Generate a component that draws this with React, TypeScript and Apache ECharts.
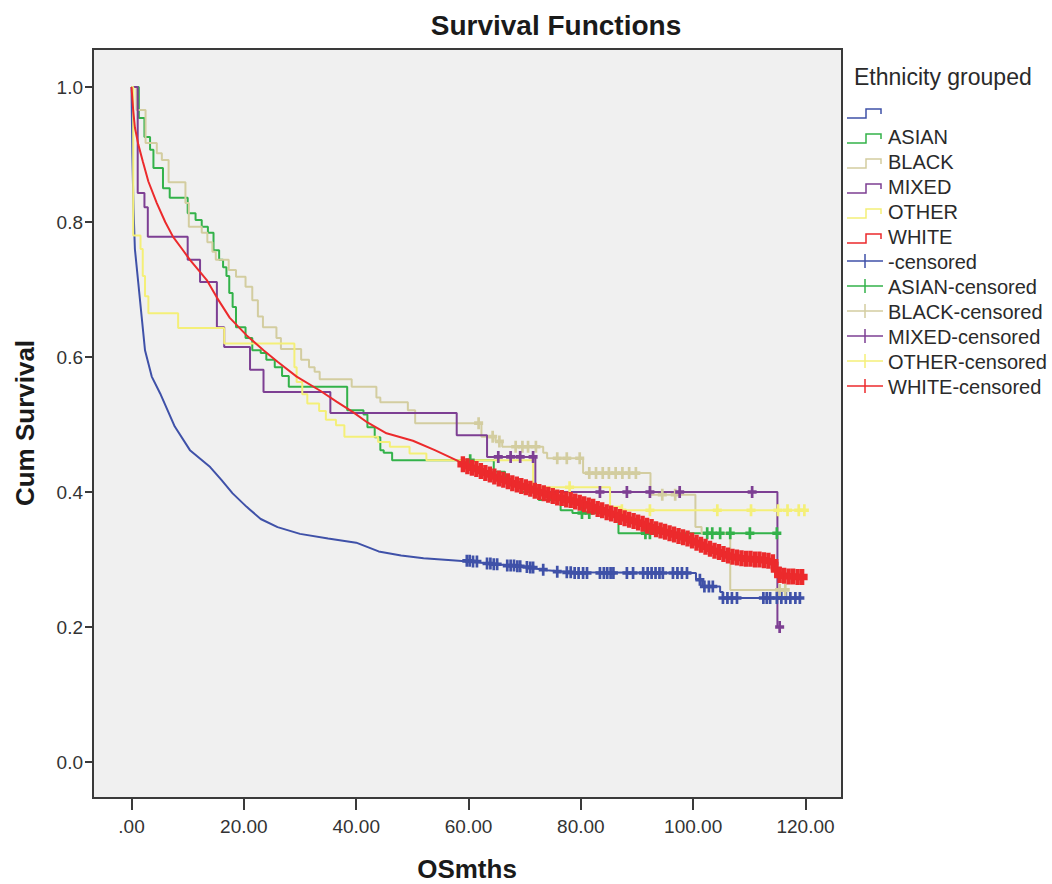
import React, { useEffect, useRef } from 'react';
import * as echarts from 'echarts';

// ---------- data ----------
const groupNames = ['', 'ASIAN', 'BLACK', 'MIXED', 'OTHER', 'WHITE'];
const xTickValues = [0, 20, 40, 60, 80, 100, 120];
const yTickValues = [0, 0.2, 0.4, 0.6, 0.8, 1.0];

// survival curves: [months, cumulative survival]
const missingCurve = [
  [0, 1], [0.15, 0.9], [0.35, 0.82], [0.6, 0.76], [1.2, 0.71], [1.8, 0.66], [2.4, 0.61],
  [3.6, 0.571], [5.1, 0.546], [7.7, 0.497], [10.4, 0.462], [14, 0.437], [16, 0.418],
  [18, 0.398], [20.5, 0.378], [23, 0.36], [26, 0.348], [30, 0.338], [35, 0.331],
  [40, 0.325], [44, 0.312], [48, 0.306], [52, 0.302], [57, 0.299], [60, 0.297],
  [65, 0.293], [70, 0.289], [74, 0.284], [78, 0.281], [100.5, 0.28], [100.5, 0.27],
  [101.6, 0.27], [101.6, 0.26], [104.8, 0.26], [104.8, 0.252], [105.3, 0.252],
  [105.3, 0.243], [119, 0.243]
];
const asianCurve = [
  [0, 1], [1.3, 0.954], [2.3, 0.926], [3.3, 0.907], [3.9, 0.88], [5.6, 0.85], [6.8, 0.836],
  [10.0, 0.813], [11.4, 0.803], [12.5, 0.793], [13.6, 0.784], [14.6, 0.758], [15.6, 0.744],
  [16.3, 0.733], [16.9, 0.72], [17.4, 0.695], [18.0, 0.674], [18.6, 0.644], [20.3, 0.628],
  [21.5, 0.61], [23.0, 0.606], [24.0, 0.596], [25.5, 0.585], [26.8, 0.572], [28.0, 0.556],
  [38.4, 0.521], [41.3, 0.515], [42.0, 0.496], [43.3, 0.481], [44.3, 0.462], [44.9, 0.458],
  [46.4, 0.447], [64.5, 0.43], [66.5, 0.415], [69.5, 0.4], [72.5, 0.388], [76.4, 0.373],
  [78.5, 0.369], [86.7, 0.339], [115, 0.339]
];
const blackCurve = [
  [0, 1], [0.9, 0.966], [2.5, 0.917], [4.5, 0.902], [5.4, 0.892], [6.6, 0.859], [9.6, 0.828],
  [10.2, 0.793], [12.5, 0.784], [13.5, 0.77], [14.4, 0.756], [15.0, 0.744], [17.3, 0.729],
  [18.6, 0.719], [20.3, 0.704], [21.5, 0.684], [22.5, 0.66], [23.4, 0.644], [25.8, 0.628],
  [26.6, 0.612], [30.2, 0.596], [31.6, 0.585], [32.6, 0.578], [33.5, 0.567], [39.2, 0.556],
  [43.6, 0.54], [44.3, 0.533], [49.2, 0.521], [50.5, 0.502], [62.3, 0.482], [64.8, 0.475],
  [66, 0.467], [73.3, 0.458], [74, 0.45], [80.4, 0.428], [92.4, 0.396], [100.4, 0.348],
  [101.5, 0.339], [106.6, 0.255], [116.7, 0.255]
];
const mixedCurve = [
  [0, 1], [1.1, 0.843], [2.3, 0.822], [2.9, 0.778], [10.0, 0.744], [12.2, 0.711],
  [15.2, 0.644], [16.5, 0.615], [21.1, 0.581], [23.5, 0.548], [35.4, 0.517], [57.9, 0.484],
  [63.3, 0.452], [71.9, 0.4], [115, 0.2], [115.4, 0.2]
];
const otherCurve = [
  [0, 1], [0.3, 0.78], [1.6, 0.76], [2.0, 0.72], [2.4, 0.69], [3.0, 0.665], [8.3, 0.643],
  [16.5, 0.62], [29.0, 0.585], [29.4, 0.563], [30.4, 0.545], [31.3, 0.531], [33.4, 0.52],
  [34.6, 0.507], [36.4, 0.499], [37.9, 0.482], [43.9, 0.474], [46, 0.467], [49.5, 0.457],
  [52.5, 0.447], [71.5, 0.407], [85.2, 0.378], [87, 0.373], [120.3, 0.373]
];
const whiteCurve = [
  [0, 1], [0.3, 0.965], [0.6, 0.94], [1.2, 0.915], [2, 0.89], [3, 0.86], [4.5, 0.828],
  [6, 0.8], [7.4, 0.778], [9, 0.76], [10.4, 0.744], [12, 0.728], [13.4, 0.714],
  [15.2, 0.688], [17.5, 0.658], [20.5, 0.632], [23.5, 0.61], [26, 0.593], [29.4, 0.571],
  [33.6, 0.55], [36.5, 0.534], [39.5, 0.518], [42, 0.503], [45.4, 0.487], [50.1, 0.476],
  [54, 0.462], [57.9, 0.447], [60, 0.438], [62, 0.432], [66, 0.418], [71.5, 0.403],
  [76, 0.392], [79.9, 0.384], [84, 0.372], [90.5, 0.354], [95, 0.341], [99.5, 0.329],
  [103, 0.316], [107.1, 0.304], [110, 0.301], [113.5, 0.298], [114.6, 0.29], [115, 0.277],
  [119.4, 0.274]
];

// censored observations: [months, cumulative survival]
const missingCensor = [
  [59.7, 0.298], [60.2, 0.298], [60.8, 0.297], [61.5, 0.297], [63.3, 0.294], [63.9, 0.294],
  [64.5, 0.293], [65.1, 0.293], [66.9, 0.291], [67.5, 0.291], [68.1, 0.291], [68.7, 0.29],
  [69.2, 0.29], [70.4, 0.289], [71.0, 0.288], [71.5, 0.288], [73.3, 0.285], [75.8, 0.282],
  [77.5, 0.281], [78.2, 0.281], [78.9, 0.28], [79.6, 0.28], [80.4, 0.28], [81.1, 0.28],
  [83.4, 0.28], [84.1, 0.28], [84.7, 0.28], [85.3, 0.28], [85.8, 0.28], [88.2, 0.28],
  [89.3, 0.28], [91.1, 0.28], [91.9, 0.28], [92.6, 0.28], [93.3, 0.28], [94.0, 0.28],
  [94.6, 0.28], [96.4, 0.28], [97.2, 0.28], [98.0, 0.28], [98.9, 0.28], [101.2, 0.27],
  [102.0, 0.26], [102.8, 0.26], [103.5, 0.26], [105.3, 0.243], [106.1, 0.243],
  [106.9, 0.243], [107.8, 0.243], [112.5, 0.243], [113.1, 0.243], [113.7, 0.243],
  [114.9, 0.243], [115.7, 0.243], [116.5, 0.243], [117.3, 0.243], [118.2, 0.243], [119.0, 0.243]
];
const asianCensor = [
  [60.3, 0.447], [80.2, 0.369], [81.5, 0.369], [91.5, 0.339], [92.3, 0.339], [102.5, 0.339],
  [103.4, 0.339], [104.8, 0.339], [106.6, 0.339], [110.1, 0.339], [114.9, 0.339]
];
const blackCensor = [
  [61.8, 0.502], [64.3, 0.482], [65.5, 0.475], [68.4, 0.467], [69.6, 0.467], [70.6, 0.467],
  [72.0, 0.467], [75.8, 0.45], [77.5, 0.45], [79.8, 0.45], [81.5, 0.428], [82.7, 0.428],
  [83.9, 0.428], [85.0, 0.428], [86.2, 0.428], [87.4, 0.428], [88.6, 0.428], [89.8, 0.428],
  [94.5, 0.396], [96.8, 0.396], [115.4, 0.255], [116.4, 0.255]
];
const mixedCensor = [
  [65.3, 0.452], [67.5, 0.452], [69.2, 0.452], [71.5, 0.452], [83.4, 0.4], [88.2, 0.4],
  [92.3, 0.4], [97.6, 0.4], [110.5, 0.4], [115.4, 0.2]
];
const otherCensor = [
  [78.0, 0.407], [87.3, 0.373], [92.3, 0.373], [104.3, 0.373], [110.3, 0.373],
  [115.1, 0.373], [116.8, 0.373], [118.8, 0.373], [119.8, 0.373]
];
const whiteCensor = [
  [59.0, 0.441], [59.8, 0.438], [60.6, 0.436], [61.4, 0.434], [62.2, 0.431], [63.0, 0.428],
  [63.8, 0.426], [64.6, 0.423], [65.4, 0.42], [66.2, 0.418], [67.0, 0.416], [67.8, 0.413],
  [68.6, 0.411], [69.4, 0.409], [70.2, 0.407], [71.0, 0.405], [71.8, 0.402], [72.6, 0.4],
  [73.4, 0.398], [74.2, 0.396], [75.0, 0.394], [75.8, 0.392], [76.6, 0.391], [77.4, 0.389],
  [78.2, 0.388], [79.0, 0.386], [79.8, 0.384], [80.6, 0.382], [81.4, 0.38], [82.2, 0.378],
  [83.0, 0.375], [83.8, 0.373], [84.6, 0.37], [85.4, 0.368], [86.2, 0.366], [87.0, 0.363],
  [87.8, 0.361], [88.6, 0.359], [89.4, 0.357], [90.2, 0.355], [91.0, 0.353], [91.8, 0.35],
  [92.6, 0.348], [93.4, 0.345], [94.2, 0.343], [95.0, 0.341], [95.8, 0.339], [96.6, 0.337],
  [97.4, 0.335], [98.2, 0.333], [99.0, 0.331], [99.8, 0.328], [100.6, 0.325], [101.4, 0.322],
  [102.2, 0.319], [103.0, 0.316], [103.8, 0.313], [104.6, 0.311], [105.4, 0.308],
  [106.2, 0.306], [107.0, 0.304], [107.8, 0.303], [108.6, 0.302], [109.4, 0.301],
  [110.2, 0.301], [111.0, 0.3], [111.8, 0.3], [112.6, 0.299], [113.4, 0.298], [114.2, 0.296],
  [114.8, 0.285], [115.4, 0.277], [116.2, 0.276], [117.0, 0.275], [117.8, 0.275],
  [118.6, 0.274], [119.4, 0.274]
];

const curves = [missingCurve, asianCurve, blackCurve, mixedCurve, otherCurve, whiteCurve];
const censors = [missingCensor, asianCensor, blackCensor, mixedCensor, otherCensor, whiteCensor];
const stepped = [false, true, true, true, true, false];

// ---------- styles ----------
const palette = ['#3f51a8', '#33b24a', '#d3cda0', '#7d3f93', '#f4ef78', '#ec2a2c'];
const FONT = '"Liberation Sans", Arial, sans-serif';
const PLUS = 'path://M3.5,0H6.5V3.5H10V6.5H6.5V10H3.5V6.5H0V3.5H3.5Z';
const PLUS_BOLD = 'path://M3,0H7V3H10V7H7V10H3V7H0V3H3Z';

const GRID = { left: 93, top: 49, width: 749, height: 749 };

export default function App() {
  const ref = useRef<HTMLDivElement>(null);

  useEffect(() => {
    if (!ref.current) return;
    const chart = echarts.init(ref.current, null, { renderer: 'svg' });

    const series: any[] = [];
    curves.forEach((c, i) => {
      series.push({
        type: 'line',
        name: groupNames[i],
        data: c,
        step: stepped[i] ? 'end' : false,
        showSymbol: false,
        symbol: 'none',
        silent: true,
        z: 2 + i,
        lineStyle: { color: palette[i], width: 2 },
      });
    });
    censors.forEach((c, i) => {
      const isWhite = i === 5;
      series.push({
        type: 'scatter',
        name: groupNames[i] + '-censored',
        data: c,
        symbol: isWhite ? PLUS_BOLD : PLUS,
        symbolSize: isWhite ? [11, 16] : [9, 12],
        silent: true,
        z: 10 + i,
        itemStyle: { color: palette[i], opacity: 1 },
      });
    });

    const legendX = 847;
    const rowY = (k: number) => 111 + 25 * k;
    const graphics: any[] = [
      {
        type: 'text', x: 556, y: 25,
        style: { text: 'Survival Functions', font: `bold 28px ${FONT}`, fill: '#1a1a1a', textAlign: 'center', textVerticalAlign: 'middle' },
      },
      {
        type: 'text', x: 467, y: 869,
        style: { text: 'OSmths', font: `bold 26px ${FONT}`, fill: '#1a1a1a', textAlign: 'center', textVerticalAlign: 'middle' },
      },
      {
        type: 'text', x: 25, y: 423, rotation: Math.PI / 2,
        style: { text: 'Cum Survival', font: `bold 26px ${FONT}`, fill: '#1a1a1a', textAlign: 'center', textVerticalAlign: 'middle' },
      },
      {
        type: 'text', x: 854, y: 77,
        style: { text: 'Ethnicity grouped', font: `23px ${FONT}`, fill: '#2a2a2a', textAlign: 'left', textVerticalAlign: 'middle' },
      },
    ];
    groupNames.forEach((g, i) => {
      const c = rowY(i);
      graphics.push({
        type: 'polyline',
        shape: { points: [[legendX, c + 7], [legendX + 19, c + 7], [legendX + 19, c - 2], [legendX + 34, c - 2], [legendX + 34, c + 3]] },
        style: { stroke: palette[i], lineWidth: 1.5, fill: null },
      });
      graphics.push({
        type: 'text', x: 888, y: c + 1,
        style: { text: g, font: `20px ${FONT}`, fill: '#2a2a2a', textAlign: 'left', textVerticalAlign: 'middle' },
      });
    });
    groupNames.forEach((g, i) => {
      const c = rowY(6 + i);
      graphics.push({
        type: 'line', shape: { x1: legendX, y1: c, x2: legendX + 36, y2: c },
        style: { stroke: palette[i], lineWidth: 1.5 },
      });
      graphics.push({
        type: 'line', shape: { x1: legendX + 18, y1: c - 7, x2: legendX + 18, y2: c + 7 },
        style: { stroke: palette[i], lineWidth: 1.5 },
      });
      graphics.push({
        type: 'text', x: 888, y: c + 1,
        style: { text: g + '-censored', font: `20px ${FONT}`, fill: '#2a2a2a', textAlign: 'left', textVerticalAlign: 'middle' },
      });
    });

    chart.setOption({
      animation: false,
      backgroundColor: '#ffffff',
      grid: { ...GRID, show: true, backgroundColor: '#f0f0f0', borderColor: '#3a3a3a', borderWidth: 2 },
      xAxis: {
        type: 'value',
        min: -6.86,
        max: 126.5,
        splitLine: { show: false },
        axisLine: { show: true, onZero: false, lineStyle: { color: '#3a3a3a', width: 2 } },
        axisTick: { show: true, customValues: xTickValues, length: 12, inside: false, lineStyle: { color: '#3a3a3a', width: 2 } },
        axisLabel: {
          customValues: xTickValues,
          margin: 19,
          color: '#333',
          fontSize: 19,
          fontFamily: FONT,
          formatter: (v: number) => (v === 0 ? '.00' : v.toFixed(2)),
        },
      },
      yAxis: {
        type: 'value',
        min: -0.0533,
        max: 1.0563,
        splitLine: { show: false },
        axisLine: { show: true, onZero: false, lineStyle: { color: '#3a3a3a', width: 2 } },
        axisTick: { show: true, customValues: yTickValues, length: 8, inside: false, lineStyle: { color: '#3a3a3a', width: 2 } },
        axisLabel: {
          customValues: yTickValues,
          margin: 10,
          color: '#333',
          fontSize: 19,
          fontFamily: FONT,
          formatter: (v: number) => v.toFixed(1),
        },
      },
      series,
      graphic: { elements: graphics },
    });

    return () => chart.dispose();
  }, []);

  return (
    <div
      ref={ref}
      style={{ position: 'fixed', left: 0, top: 0, width: 1052, height: 884, background: '#fff' }}
    />
  );
}
